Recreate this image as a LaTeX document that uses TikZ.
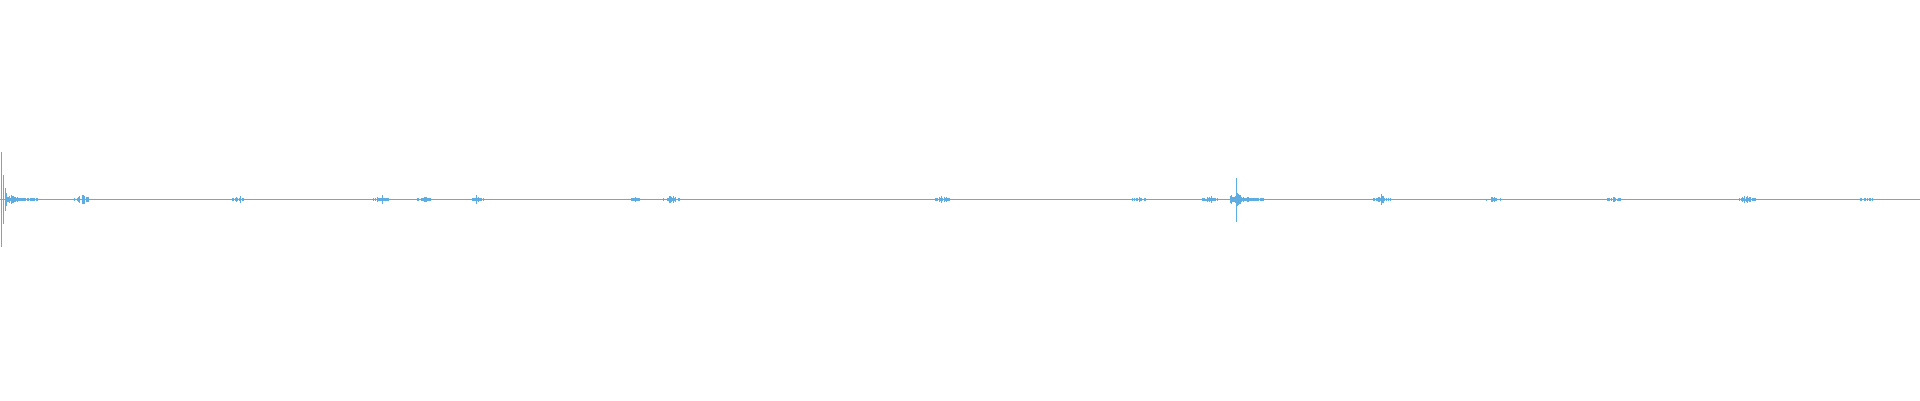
\documentclass[tikz,border=0pt]{standalone}
\begin{document}
\begin{tikzpicture}[x=1pt,y=-1pt,wave/.style={draw=wc,line width=0.6pt}]
\definecolor{wc}{HTML}{5DADE2}
\useasboundingbox (0,0) rectangle (1920,400);
\pgfmathsetseed{7}
\draw[wave,line width=0.8pt] (0,199.5) -- (1920,199.5);
% big spikes
\draw[wave] (1.5,152) -- (1.5,247);
\draw[wave] (3,175) -- (3,224);
\draw[wave] (5,188) -- (5,211);
\foreach \i in {6,...,40}{\pgfmathsetmacro{\a}{(1+rnd*5)*exp(-(\i-6)/10)+0.8}
  \draw[wave] (\i,199.5-\a) -- (\i,199.5+\a);}
\draw[wave] (1236,178) -- (1236,222);
\foreach \i in {1230,...,1265}{\pgfmathsetmacro{\a}{(1+rnd*6)*exp(-abs(\i-1236)/8)+0.8}
  \draw[wave] (\i,199.5-\a) -- (\i,199.5+\a);}
% small bursts
\foreach \c/\h in {82/7,239/4,381/6,424/3,476/4,634/3,671/5,942/5,1138/3,1210/4,1381/5,1493/3,1614/3,1747/6,1866/3}{
  \foreach \k in {-8,...,12}{\pgfmathsetmacro{\a}{\h*rnd*exp(-abs(\k)/4)+0.6}
    \draw[wave,line width=0.4pt] (\c+\k,199.5-\a) -- (\c+\k,199.5+\a);}}
\end{tikzpicture}
\end{document}
